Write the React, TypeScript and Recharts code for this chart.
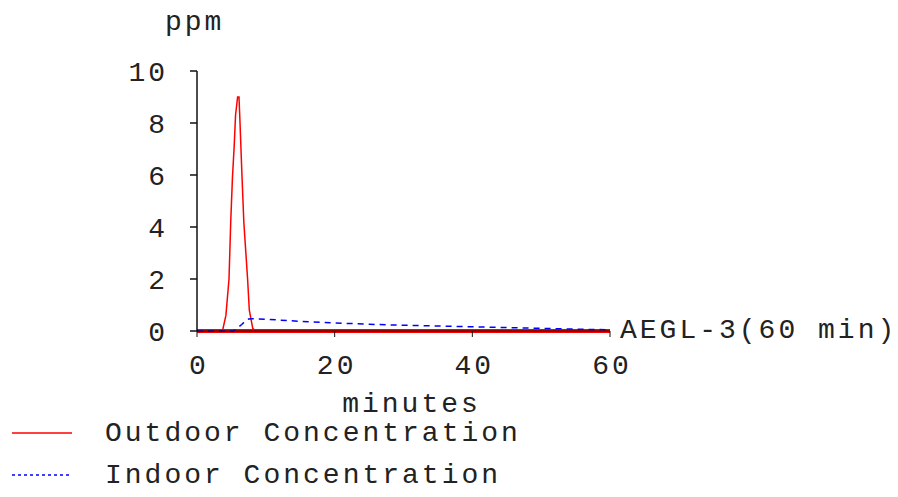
import { LineChart, Line, XAxis, YAxis, ReferenceLine, Label } from 'recharts';

const FONT = '"Liberation Mono", "DejaVu Sans Mono", monospace';
const INK = '#222';

// time in minutes, concentration in ppm
const outdoorMinutes = [0, 3.7, 4.2, 4.65, 4.9, 5.15, 5.4, 5.6, 5.9, 6.1, 6.25, 6.5, 6.8, 7.35, 7.6, 8.1, 8.5, 60];
const outdoorPpm = [0, 0, 0.6, 2.0, 4.2, 5.9, 7.1, 8.3, 9.0, 9.0, 8.0, 6.2, 4.2, 2.0, 0.8, 0.1, 0, 0];

const indoorMinutes = [0, 5.3, 5.8, 6.5, 7, 7.5, 8, 10, 12, 15, 20, 25, 30, 35, 40, 45, 50, 55, 60];
const indoorPpm = [0, 0, 0.1, 0.25, 0.38, 0.46, 0.47, 0.45, 0.42, 0.37, 0.31, 0.26, 0.22, 0.19, 0.16, 0.13, 0.1, 0.07, 0.05];

const xTicks = [0, 20, 40, 60];
const yTicks = [0, 2, 4, 6, 8, 10];

const aeglLabel = 'AEGL-3(60 min)';
const aeglPpm = 0;

const outdoor = outdoorMinutes.map((t, i) => ({ t, ppm: outdoorPpm[i] }));
const indoor = indoorMinutes.map((t, i) => ({ t, ppm: indoorPpm[i] }));

const textStyle = { fontFamily: FONT, fontSize: 28, fill: INK, letterSpacing: 3 };

export default function App() {
  return (
    <div style={{ position: 'absolute', left: 0, top: 0, width: 898, height: 497, background: '#fff' }}>
      <LineChart width={898} height={497} margin={{ top: 71, right: 288, bottom: 126, left: 137 }}>
        <ReferenceLine
          y={aeglPpm}
          stroke="#ff0000"
          strokeWidth={4}
          label={{
            content: (p: any) => (
              <text x={p.viewBox.x + p.viewBox.width + 10} y={p.viewBox.y + 7} style={textStyle}>
                {aeglLabel}
              </text>
            ),
          }}
        />
        <XAxis
          dataKey="t"
          type="number"
          domain={[0, 60]}
          ticks={xTicks}
          height={40}
          tickSize={6}
          tickMargin={17}
          stroke="#111"
          strokeWidth={1}
          tick={{ ...textStyle, fill: INK, dx: 2 }}
          allowDataOverflow
        >
          <Label
            content={(p: any) => (
              <text x={p.viewBox.x + p.viewBox.width / 2 + 8} y={412} textAnchor="middle" style={textStyle}>
                minutes
              </text>
            )}
          />
        </XAxis>
        <YAxis
          dataKey="ppm"
          type="number"
          domain={[0, 10]}
          ticks={yTicks}
          width={60}
          tickSize={7}
          tickMargin={22}
          stroke="#111"
          strokeWidth={1.5}
          tick={{ ...textStyle, fill: INK }}
        >
          <Label
            content={(p: any) => (
              <text x={p.viewBox.x + 28} y={p.viewBox.y - 41} style={textStyle}>
                ppm
              </text>
            )}
          />
        </YAxis>
        <Line
          data={outdoor}
          dataKey="ppm"
          type="linear"
          stroke="#ff0000"
          strokeWidth={1.5}
          dot={false}
          isAnimationActive={false}
        />
        <Line
          data={indoor}
          dataKey="ppm"
          type="linear"
          stroke="#0000ff"
          strokeWidth={1.5}
          strokeDasharray="6 5"
          dot={false}
          isAnimationActive={false}
        />
      </LineChart>
      <svg width={898} height={497} style={{ position: 'absolute', left: 0, top: 0, pointerEvents: 'none' }}>
        <line x1={12} x2={72} y1={433} y2={433} stroke="#ff0000" strokeWidth={1.5} />
        <text x={105} y={441} style={textStyle}>Outdoor Concentration</text>
        <line x1={12} x2={72} y1={475} y2={475} stroke="#0000ff" strokeWidth={1.5} strokeDasharray="3 3" />
        <text x={105} y={483} style={textStyle}>Indoor Concentration</text>
      </svg>
    </div>
  );
}
